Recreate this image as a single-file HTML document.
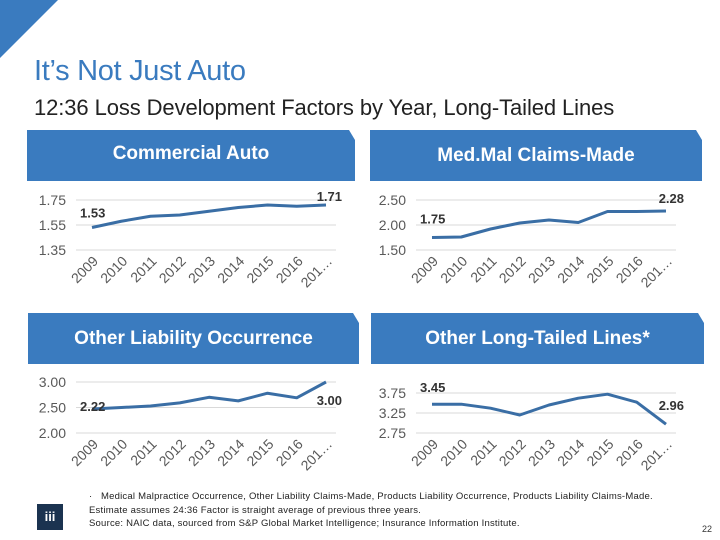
<!DOCTYPE html>
<html><head><meta charset="utf-8"><style>
body{margin:0;width:720px;height:540px;overflow:hidden;background:#fff;font-family:"Liberation Sans",sans-serif;position:relative}
.abs{position:absolute}
.hdr{position:absolute;background:#3a7bbf;color:#fff;font-weight:bold;font-size:19px;display:flex;align-items:center;justify-content:center;clip-path:polygon(0 0,calc(100% - 6px) 0,100% 10px,100% 100%,0 100%)}
.foot{font-size:9.5px;color:#222;left:89px;letter-spacing:0.22px;white-space:nowrap}
</style></head><body>
<svg class="abs" style="left:0;top:0" width="60" height="60"><polygon points="0,0 58,0 0,58" fill="#3a7bbf"/></svg>
<div class="abs" style="left:34px;top:55px;font-size:29px;color:#3a7bbf;letter-spacing:-0.3px">It’s Not Just Auto</div>
<div class="abs" style="left:34px;top:95px;font-size:22px;color:#222;letter-spacing:-0.1px">12:36 Loss Development Factors by Year, Long-Tailed Lines</div>
<div class="hdr" style="left:27px;top:130px;width:328px;height:51px"><span style="margin-top:-3px">Commercial Auto</span></div>
<div class="hdr" style="left:370px;top:130px;width:332px;height:51px">Med.Mal Claims-Made</div>
<div class="hdr" style="left:28px;top:313px;width:331px;height:51px">Other Liability Occurrence</div>
<div class="hdr" style="left:371px;top:313px;width:333px;height:51px">Other Long-Tailed Lines*</div>
<svg id="charts" class="abs" style="left:0;top:0" width="720" height="540"></svg>
<div class="abs foot" style="top:491px">· &nbsp;&nbsp;Medical Malpractice Occurrence, Other Liability Claims-Made, Products Liability Occurrence, Products Liability Claims-Made.</div>
<div class="abs foot" style="top:505px">Estimate assumes 24:36 Factor is straight average of previous three years.</div>
<div class="abs foot" style="top:518px">Source: NAIC data, sourced from S&amp;P Global Market Intelligence; Insurance Information Institute.</div>
<div class="abs" style="left:37px;top:504px;width:26px;height:26px;background:#1b3350;color:#fff;font-size:13px;font-weight:bold;text-align:center;line-height:26px">iii</div>
<div class="abs" style="left:702px;top:524px;font-size:9px;color:#333">22</div>
<script>
const categories=["2009","2010","2011","2012","2013","2014","2015","2016","201…"];
const autoValues=[1.53,1.58,1.62,1.63,1.66,1.69,1.71,1.70,1.71];
const medmalValues=[1.75,1.76,1.92,2.04,2.10,2.05,2.27,2.27,2.28];
const olValues=[2.47,2.50,2.53,2.59,2.70,2.63,2.78,2.69,3.00];
const oltValues=[3.47,3.47,3.37,3.20,3.45,3.62,3.72,3.52,2.97];
const autoTicks=[1.75,1.55,1.35];
const medmalTicks=[2.50,2.00,1.50];
const olTicks=[3.00,2.50,2.00];
const oltTicks=[3.75,3.25,2.75];
const autoLabels=["1.53","1.71"];
const medmalLabels=["1.75","2.28"];
const olLabels=["2.22","3.00"];
const oltLabels=["3.45","2.96"];
const NS="http://www.w3.org/2000/svg";
const svg=document.getElementById('charts');
function mk(t,a){const e=document.createElementNS(NS,t);for(const k in a)e.setAttribute(k,a[k]);svg.appendChild(e);return e;}
function chart(name,vals,ticks,labels,x0,x1,yTop,yBot,lblOff){
  const tmax=ticks[0],tmin=ticks[ticks.length-1];
  const y=v=>yBot-(v-tmin)/(tmax-tmin)*(yBot-yTop);
  const x=i=>x0+i*(x1-x0)/(categories.length-1);
  ticks.forEach(t=>{
    const g=mk('line',{x1:x0-16,x2:x1+10,y1:y(t),y2:y(t),stroke:'#d9d9d9','stroke-width':1});
    
    
    const tx=mk('text',{x:x0-26,y:y(t)+5,'text-anchor':'end','font-size':14,fill:'#595959','font-family':'Liberation Sans, sans-serif'});
    tx.textContent=t.toFixed(2);
    
    
  });
  categories.forEach((c,i)=>{
    const tx=mk('text',{x:x(i)+7,y:yBot+12,'text-anchor':'end','font-size':14,fill:'#595959','font-family':'Liberation Sans, sans-serif',transform:`rotate(-45 ${x(i)+7} ${yBot+12})`});
    tx.textContent=c;
    
    
  });
  const pl=mk('polyline',{points:vals.map((v,i)=>x(i)+','+y(v)).join(' '),fill:'none',stroke:'#3a6ea5','stroke-width':3,'stroke-linejoin':'round'});
  
  
  const n=vals.length-1;
  const a=mk('text',{x:x(0)-12,y:y(vals[0])+lblOff[0],'font-size':13,'font-weight':'bold',fill:'#333','font-family':'Liberation Sans, sans-serif'});
  a.textContent=labels[0];
  
  
  const b=mk('text',{x:x(n)+lblOff[2],y:y(vals[n])+lblOff[1],'font-size':13,'font-weight':'bold',fill:'#333','text-anchor':'end','font-family':'Liberation Sans, sans-serif'});
  b.textContent=labels[1];
  
  
}
chart('commercial-auto',autoValues,autoTicks,autoLabels,92,326,200,250,[-10,-4,16]);
chart('medmal',medmalValues,medmalTicks,medmalLabels,432,666,200,250,[-14,-8,18]);
chart('other-liability',olValues,olTicks,olLabels,92,326,382,433,[2,23,16]);
chart('other-long-tailed',oltValues,oltTicks,oltLabels,432,666,393,433,[-12,-14,18]);
</script>
</body></html>
